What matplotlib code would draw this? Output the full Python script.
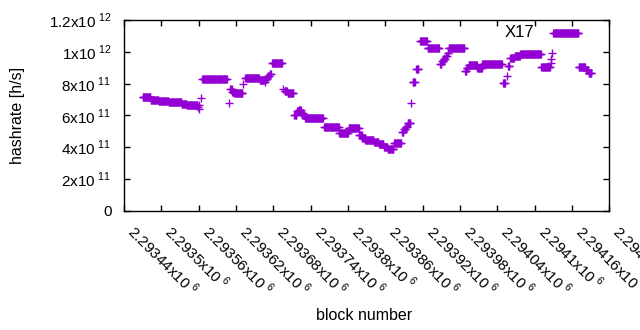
import numpy as np
import matplotlib
matplotlib.use("Agg")
import matplotlib.pyplot as plt

plt.rcParams['font.family'] = ['Liberation Sans', 'DejaVu Sans']
plt.rcParams['mathtext.fontset'] = 'custom'
plt.rcParams['mathtext.rm'] = 'Liberation Sans'

# runs of blocks with the same hashrate estimate (first block, last block, hashrate in 1e11 h/s)
block0 = 2293440
run_first = [30, 43, 56, 72, 93, 101, 119, 120, 121, 124, 126, 168, 171, 174, 177, 192,
             195, 218, 227, 228, 231, 234, 238, 256, 258, 263, 274, 278, 281, 285, 288,
             291, 322, 346, 361, 378, 383, 388, 402, 410, 418, 424, 434, 447, 450, 453,
             456, 462, 464, 470, 476, 488, 508, 511, 514, 517, 520, 522, 548, 551, 554,
             568, 576, 609, 615, 617, 621, 628, 637, 653, 671, 686, 687, 688, 690, 731,
             742, 747]
run_last = [42, 55, 71, 92, 100, 118, 119, 120, 121, 124, 165, 168, 173, 176, 190, 192,
            217, 226, 227, 230, 233, 236, 254, 256, 262, 272, 277, 280, 284, 287, 290,
            320, 345, 360, 377, 382, 387, 401, 409, 417, 423, 433, 445, 449, 452, 455,
            460, 462, 467, 473, 487, 506, 510, 513, 516, 519, 521, 547, 550, 553, 567,
            575, 607, 612, 615, 619, 627, 636, 652, 670, 684, 686, 687, 688, 730, 741,
            746, 751]
run_rate = [7.13, 6.96, 6.88, 6.82, 6.72, 6.68, 6.55, 6.62, 6.40, 7.07, 8.26, 6.75, 7.68,
            7.50, 7.38, 7.95, 8.34, 8.20, 8.07, 8.30, 8.45, 8.58, 9.28, 7.63, 7.55, 7.38,
            6.05, 6.25, 6.35, 6.15, 6.00, 5.81, 5.25, 4.87, 5.18, 4.75, 4.58, 4.45, 4.32,
            4.18, 4.03, 3.86, 4.24, 4.98, 5.12, 5.28, 5.50, 6.75, 8.07, 8.89, 10.67, 10.23,
            9.25, 9.40, 9.55, 9.75, 9.90, 10.23, 8.80, 9.00, 9.14, 8.95, 9.22, 8.01, 8.47,
            9.10, 9.60, 9.75, 9.83, 9.85, 9.02, 9.31, 9.52, 9.90, 11.16, 9.05, 8.85, 8.65]

blocks = []
rates = []
for a, b, r in zip(run_first, run_last, run_rate):
    for blk in range(a, b + 1):
        blocks.append(block0 + blk)
        rates.append(r * 1e11)

xticks = np.arange(block0, block0 + 781, 60)
yticks = [0, 2e11, 4e11, 6e11, 8e11, 1e12, 1.2e12]
ylabels = ['0', r'2x10$^{\ 11}$', r'4x10$^{\ 11}$', r'6x10$^{\ 11}$', r'8x10$^{\ 11}$',
           r'1x10$^{\ 12}$', r'1.2x10$^{\ 12}$']

fig = plt.figure(figsize=(6.4, 3.3), dpi=100)
ax = fig.add_axes([124/640, 1 - 210.7/330, (609.3-124)/640, (210.7-20)/330])
ax.plot(blocks, rates, '+', color='#9400d3', markersize=5.5, markeredgewidth=1.0)

ax.set_xlim(block0, block0 + 780)
ax.set_ylim(0, 1.2e12)
ax.set_xticks(xticks)
ax.set_xticklabels(['%gx10$^{\\ 6}$' % (v / 1e6) for v in xticks],
                   rotation=-45, ha='left', va='top', fontsize=11)
ax.set_yticks(yticks)
ax.set_yticklabels(ylabels, fontsize=11)
ax.tick_params(direction='in', length=4, top=True, right=True, width=1)
ax.tick_params(axis='y', pad=9)
ax.tick_params(axis='x', pad=8)
for s in ax.spines.values():
    s.set_linewidth(1)

ax.text(block0 + 635, 11.24e11, 'X17', ha='center', va='center', fontsize=12)
fig.text(18/640, 1 - 115/330, 'hashrate [h/s]', rotation=90, ha='center', va='center', fontsize=11.5)
fig.text(364/640, 1 - 316/330, 'block number', ha='center', va='center', fontsize=11.5)

fig.savefig('out.png', dpi=100)
